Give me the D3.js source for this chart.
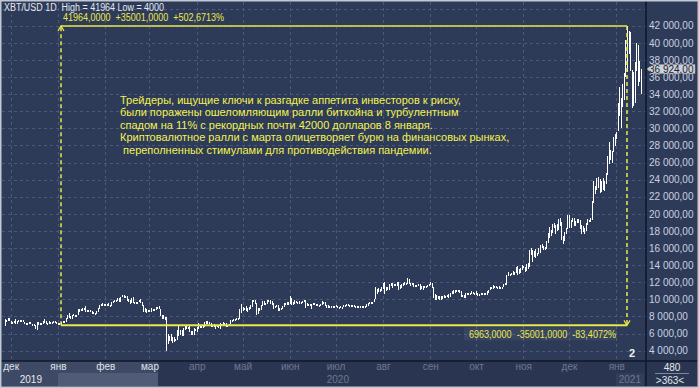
<!DOCTYPE html>
<html><head><meta charset="utf-8">
<script src="https://cdn.jsdelivr.net/npm/d3@7/dist/d3.min.js"></script>
<style>
html,body{margin:0;padding:0;background:#2e3b58;}
svg{display:block;}
text{font-family:"Liberation Sans",Arial,sans-serif;}
</style>
</head><body>
<svg id="c" width="699" height="388"></svg>
<script>
// ---------------- DATA ----------------
const startDate = "2019-11-27"; // first daily bar
const highs = [
// Nov 2019 (27-30)
7650,7620,7850,7820,
// Dec 2019
7530,7390,7420,7750,7480,7560,7610,7580,7620,7400,7270,7250,7300,7300,7160,7130,6950,7400,7350,7230,7210,7500,7690,7440,7280,7430,7330,7370,7520,7460,7320,
// Jan 2020
7250,7210,7400,7420,7520,7800,8200,8450,8080,8180,8290,8180,8180,8880,8900,8850,9000,8980,9200,8710,8730,8800,8680,8520,8450,8600,8980,9400,9430,9570,9500,
// Feb 2020
9450,9470,9600,9300,9750,9850,9880,9950,10150,10150,10300,10480,10530,10390,10380,10040,9950,10220,10230,9670,9700,9710,9980,9990,9660,9370,8950,8900,8800,
// Mar 2020
8750,8950,8900,8840,9150,9160,9200,8900,8180,8150,7980,7960,5950,5700,5900,5600,5550,5420,6400,6900,6450,6400,6600,6850,6950,6780,6850,6300,6250,6600,6520,
// Apr 2020
6750,7250,7000,6990,6900,7370,7440,7420,7360,7250,6950,7150,6930,6980,6950,7200,7150,7300,7240,7240,6970,7140,7590,7580,7660,7720,7800,7780,8900,9450,
// May 2020
9060,9040,9180,8950,9100,9390,9950,9950,9900,9600,8950,8950,9400,9800,9850,9580,9870,9950,9900,9800,9580,9270,9320,9300,8980,9000,9220,9580,9600,9700,9700,
// Jun 2020
10400,10220,9700,9880,9830,9730,9780,9740,9810,9960,9950,9560,9500,9450,9500,9580,9560,9470,9460,9380,9420,9770,9690,9690,9320,9300,9210,9220,9200,9200,
// Jul 2020
9290,9280,9130,9190,9130,9360,9380,9470,9440,9300,9300,9350,9340,9270,9270,9230,9190,9200,9240,9220,9420,9540,9650,9640,9730,10100,11400,11250,11330,11180,11450,
// Aug 2020
11860,12060,11480,11420,11800,11900,11900,11800,11810,12050,12060,11650,11800,11880,12000,11950,12480,12400,11950,11880,11900,11690,11700,11800,11750,11550,11580,11550,11600,11700,11780,
// Sep 2020
12080,11950,11450,10660,10560,10360,10400,10420,10350,10500,10450,10480,10580,10800,10950,11100,11050,11050,11150,11070,10990,10560,10540,10770,10770,10780,10800,10950,10850,10800,
// Oct 2020
10950,10700,10600,10700,10800,10800,10700,10950,11100,11500,11420,11700,11560,11550,11500,11530,11420,11500,11820,11930,12900,13150,13020,13120,13340,13220,13770,13850,13580,13650,14050,
// Nov 2020
13850,13800,14080,14220,15750,15950,15780,15650,15850,15450,15950,16350,16480,16300,16150,16880,17800,18450,18150,18780,18950,18700,18770,19410,19480,19100,17450,17850,18350,19850,
// Dec 2020
19900,19300,19550,19500,19150,19400,19400,19300,18650,18550,18300,18900,19400,19330,19550,21500,23800,23300,24250,24300,24100,23850,24150,23800,24800,26800,28400,27500,27350,28950,29300,
// Jan 2021 (1-17)
29600,33000,34800,33600,35200,36500,40300,41964,41400,41300,36800,36600,37800,40000,39700,37900,36930
];
const lows = [
// Nov 2019
6870,7420,7450,7520,
// Dec 2019
7160,7170,7220,7100,7180,7300,7480,7460,7300,7180,7140,7100,7180,7090,7040,6850,6560,6440,7060,7120,7120,7150,7270,7120,7120,7160,7100,7270,7310,7230,7130,
// Jan 2020
7170,7000,6963,7270,7340,7360,7720,7880,7760,7670,8010,7980,8050,8120,8580,8640,8670,8820,8560,8520,8500,8600,8300,8240,8290,8330,8560,8900,9250,9250,9200,
// Feb 2020
9300,9200,9200,9100,9170,9550,9730,9700,9860,9740,9700,10230,10110,10110,9800,9670,9460,9600,9600,9450,9580,9620,9660,9530,9280,8550,8540,8440,8550,
// Mar 2020
8520,8540,8660,8670,8770,9000,8880,8020,7650,7750,7590,4000,4800,5100,5100,4900,5000,5100,5250,5700,5850,5750,5700,6400,6480,6500,6230,5870,5880,5860,6320,
// Apr 2020
6170,6580,6650,6700,6680,6780,7080,7120,7150,6770,6780,6800,6570,6770,6630,6480,6990,7020,7030,6800,6850,6830,7070,7400,7440,7450,7630,7650,7720,8420,
// May 2020
8660,8760,8700,8550,8750,8920,9090,9700,9500,8200,8300,8600,8800,9250,9300,9290,9480,9650,9500,9300,8900,9000,9080,8700,8650,8800,8860,9120,9330,9350,9400,
// Jun 2020
9420,9300,9400,9470,9550,9590,9450,9620,9570,9690,9050,9250,9380,9300,8920,9360,9320,9290,9220,9200,9280,9300,9530,9230,9050,9030,8950,8950,9030,9090,
// Jul 2020
9120,9040,9050,9070,8970,9060,9230,9240,9210,9120,9200,9190,9200,9100,9170,9100,9100,9140,9130,9140,9150,9280,9460,9500,9500,9650,10000,10600,10900,10850,10970,
// Aug 2020
11230,10650,11000,11060,11100,11530,11350,11520,11550,11520,11150,11170,11290,11550,11700,11660,11800,11810,11600,11650,11500,11400,11480,11590,11150,11250,11140,11290,11450,11510,11580,
// Sep 2020
11650,11300,10200,9900,9900,10050,9900,9900,10000,10200,10200,10260,10200,10260,10620,10660,10760,10820,10900,10800,10300,10370,10150,10200,10600,10650,10650,10650,10650,10650,
// Oct 2020
10540,10400,10510,10530,10630,10560,10580,10530,10800,11050,11250,11220,11300,11280,11250,11200,11300,11330,11400,11700,11700,12700,12700,12900,12900,12800,13070,12900,12950,13120,13480,
// Nov 2020
13650,13220,13320,13550,13800,15200,14370,14900,14850,15100,15290,15450,15950,15750,15800,15880,16550,17230,17380,17800,18350,17650,18020,18080,18600,16950,16500,16860,17600,18200,
// Dec 2020
18300,18350,19000,18600,18550,18900,18950,18200,17650,17900,17600,17950,18750,19000,19050,19300,21250,22350,22800,23050,22400,22550,22750,22700,23450,24550,25850,26250,25900,27200,27950,
// Jan 2021
28700,29700,31400,30000,32500,33300,36000,36600,38700,36700,32400,32600,33000,36700,35000,35400,34000
];
const lastPrice = 36924;
const yTicks = [4000,6000,8000,10000,12000,14000,16000,18000,20000,22000,24000,26000,28000,30000,32000,34000,36000,38000,40000,42000];
const gridLevels = [4000,6000,8000,10000,12000,14000,16000,18000,20000,22000,24000,26000,28000,30000,32000,34000,36000,38000,40000,42000,44000];
const monthDates = ["2019-12-01","2020-01-01","2020-02-01","2020-03-01","2020-04-01","2020-05-01","2020-06-01","2020-07-01","2020-08-01","2020-09-01","2020-10-01","2020-11-01","2020-12-01","2021-01-01"];
const monthLabels = ["дек","янв","фев","мар","апр","май","июн","июл","авг","сен","окт","ноя","дек","янв"];
const yearLabels = ["2019","2020","2021"];
const measureStart = {date:"2020-01-03", price:6963};
const measureEnd = {date:"2021-01-08", price:41964};
const headerText = "XBT/USD 1D  High = 41964 Low = 4000";
const topInfo = "41964,0000  +35001,0000  +502,6713%";
const bottomInfo = "6963,0000  -35001,0000  -83,4072%";
const noteLines = [
"Трейдеры, ищущие ключи к разгадке аппетита инвесторов к риску,",
"были поражены ошеломляющим ралли биткойна и турбулентным",
"спадом на 11% с рекордных почти 42000 долларов 8 января.",
"Криптовалютное ралли с марта олицетворяет бурю на финансовых рынках,",
" переполненных стимулами для противодействия пандемии."
];
const cornerTop = "480", cornerBottom = ">363<", pageNum = "2";

// ---------------- LAYOUT ----------------
const W = 699, H = 388;
const plotL = 2, plotR = 646, plotT = 2, plotB = 361;
const bg = "#2e3b58", gridC = "#4b5879", yellow = "#e9e94a";
const parse = s => new Date(s + "T00:00:00Z");

const svg = d3.select("#c");
const x = d3.scaleUtc().domain([parse("2020-01-01"), parse("2021-01-01")]).range([57.95, 616.3]);
const y = d3.scaleLinear().domain([4000, 42000]).range([350.7, 25.7]);
const dates = highs.map((_, i) => d3.utcDay.offset(parse(startDate), i));

// background
svg.append("rect").attr("width", W).attr("height", H).attr("fill", bg);

// grid
const grid = svg.append("g").attr("stroke", gridC).attr("stroke-dasharray", "3,3").attr("shape-rendering", "crispEdges");
grid.selectAll("line.h").data(gridLevels).join("line").attr("class", "h")
  .attr("x1", plotL).attr("x2", plotR)
  .attr("y1", d => Math.round(y(d)) + 0.5).attr("y2", d => Math.round(y(d)) + 0.5);
grid.selectAll("line.v").data(monthDates).join("line").attr("class", "v")
  .attr("y1", plotT).attr("y2", plotB)
  .attr("x1", d => Math.round(x(parse(d))) + 0.5).attr("x2", d => Math.round(x(parse(d))) + 0.5);

// bars
svg.append("defs").append("clipPath").attr("id", "pc").append("rect")
  .attr("x", plotL).attr("y", plotT).attr("width", plotR - plotL).attr("height", plotB - plotT);
svg.append("g").attr("clip-path", "url(#pc)").attr("stroke", "#ffffff").attr("shape-rendering", "crispEdges")
  .selectAll("line").data(dates).join("line")
  .attr("x1", d => Math.round(x(d)) + 0.5).attr("x2", d => Math.round(x(d)) + 0.5)
  .attr("y1", (d, i) => Math.round(y(highs[i])))
  .attr("y2", (d, i) => Math.max(Math.round(y(lows[i])), Math.round(y(highs[i])) + 2))
  .attr("stroke-width", 1);

// measurement
const mx1 = x(parse(measureStart.date)), mx2 = x(parse(measureEnd.date));
const my1 = y(measureStart.price), my2 = y(measureEnd.price);
const mg = svg.append("g").attr("stroke", yellow).attr("fill", "none");
mg.append("line").attr("x1", mx1).attr("x2", mx2).attr("y1", my2).attr("y2", my2).attr("stroke-width", 1.5);
mg.append("line").attr("x1", mx1).attr("x2", mx2).attr("y1", my1).attr("y2", my1).attr("stroke-width", 2);
mg.append("line").attr("x1", mx1).attr("x2", mx1).attr("y1", my1).attr("y2", my2).attr("stroke-width", 1.5).attr("stroke-dasharray", "4,3");
mg.append("line").attr("x1", mx2).attr("x2", mx2).attr("y1", my2).attr("y2", my1).attr("stroke-width", 1.5).attr("stroke-dasharray", "4,3");
mg.append("polyline").attr("points", `${mx1-3},${my2+5} ${mx1},${my2} ${mx1+3},${my2+5}`).attr("stroke-width", 1.2);
mg.append("polyline").attr("points", `${mx2-3},${my1-5} ${mx2},${my1} ${mx2+3},${my1-5}`).attr("stroke-width", 1.2);

// texts in plot
svg.append("text").attr("x", 4).attr("y", 10.5).attr("font-size", 10).attr("fill", "#e4e8f0")
  .attr("textLength", 160).attr("lengthAdjust", "spacingAndGlyphs")
  .style("white-space", "pre").text(headerText);
svg.append("text").attr("x", mx1 + 2).attr("y", 21).attr("font-size", 10).attr("fill", yellow)
  .attr("textLength", 161).attr("lengthAdjust", "spacingAndGlyphs")
  .style("white-space", "pre").text(topInfo);
svg.append("rect").attr("x", 464).attr("y", my1 + 2).attr("width", mx2 - 10 - 464).attr("height", 13)
  .attr("fill", "#ffffff").attr("opacity", 0.05);
svg.append("text").attr("x", mx2 - 158).attr("y", 338).attr("font-size", 10).attr("fill", yellow)
  .attr("textLength", 147).attr("lengthAdjust", "spacingAndGlyphs")
  .style("white-space", "pre").text(bottomInfo);
svg.append("g").selectAll("text").data(noteLines).join("text")
  .attr("x", 120).attr("y", (d, i) => 103.5 + i * 12.5)
  .attr("font-size", 11).attr("fill", "#f2f24e").style("white-space", "pre").text(d => d);
svg.append("text").attr("x", 629).attr("y", 357).attr("font-size", 11).attr("font-weight", "bold").attr("fill", "#f0f0f0").text(pageNum);

// right axis
const fmtLoc = d3.formatLocale({decimal: ",", thousands: " ", grouping: [3], currency: ["", ""]});
const fmt = fmtLoc.format(",.2f");
svg.append("rect").attr("x", plotR).attr("y", 0).attr("width", W - plotR).attr("height", H).attr("fill", bg);
const ya = svg.append("g").attr("transform", `translate(${plotR},0)`)
  .call(d3.axisRight(y).tickValues(yTicks).tickFormat(fmt).tickSize(0).tickPadding(3));
ya.select(".domain").remove();
ya.selectAll("text").attr("font-size", 10).attr("fill", "#c9d1e2").attr("font-family", "Liberation Sans, Arial, sans-serif");

// last price tag
const ly = y(lastPrice);
svg.append("path").attr("d", `M${plotR+1},${ly} L${plotR+6},${ly-4.5} L${W-4},${ly-4.5} L${W-4},${ly+4.5} L${plotR+6},${ly+4.5} Z`)
  .attr("fill", "#cdd1d8").attr("stroke", "#9aa2b0").attr("stroke-width", 0.5);
svg.append("text").attr("x", plotR + 3).attr("y", ly + 3.5).attr("font-size", 10).attr("fill", "#1c2230").text(fmt(lastPrice));

// bottom axis panel
svg.append("rect").attr("x", 0).attr("y", plotB).attr("width", W).attr("height", H - plotB).attr("fill", "#2a3651");
svg.append("rect").attr("x", 2).attr("y", plotB).attr("width", 156).attr("height", 25).attr("fill", "#3d4965");
svg.append("rect").attr("x", 58).attr("y", 373).attr("width", 100).attr("height", 13).attr("fill", "#4f5b77");
svg.append("rect").attr("x", 616).attr("y", 373).attr("width", 28).attr("height", 13).attr("fill", "#313d59");
const xa = svg.append("g").attr("transform", `translate(0,${plotB})`)
  .call(d3.axisBottom(x).tickValues(monthDates.map(parse)).tickFormat((d, i) => monthLabels[i]).tickSize(0).tickPadding(2));
xa.select(".domain").remove();
xa.selectAll("text").attr("font-size", 10).attr("font-family", "Liberation Sans, Arial, sans-serif")
  .attr("fill", d => x(d) < 158 ? "#dfe3ea" : "#6d7892");
const yearPos = [{x: 42, c: "#e6e9ef"}, {x: 349, c: "#6d7892"}, {x: 641, c: "#6d7892"}];
svg.append("g").selectAll("text").data(yearLabels).join("text")
  .attr("x", (d, i) => yearPos[i].x).attr("y", 383).attr("text-anchor", "end")
  .attr("font-size", 10).attr("fill", (d, i) => yearPos[i].c).text(d => d);

// corner panel
svg.append("rect").attr("x", plotR).attr("y", plotB).attr("width", W - plotR).attr("height", H - plotB).attr("fill", "#2a3651");
svg.append("text").attr("x", 672).attr("y", 371).attr("text-anchor", "middle").attr("font-size", 10).attr("fill", "#e2e6ee").text(cornerTop);
svg.append("line").attr("x1", 655).attr("x2", 689).attr("y1", 373.5).attr("y2", 373.5).attr("stroke", "#7d879c");
svg.append("text").attr("x", 670).attr("y", 384).attr("text-anchor", "middle").attr("font-size", 10).attr("fill", "#e2e6ee")
  .style("white-space", "pre").text(cornerBottom);

// separators & frame
const sep = svg.append("g").attr("stroke", "#111827").attr("stroke-width", 1.5);
sep.append("line").attr("x1", plotR).attr("x2", plotR).attr("y1", 0).attr("y2", H);
sep.append("line").attr("x1", 0).attr("x2", W).attr("y1", plotB).attr("y2", plotB);
svg.append("rect").attr("x", 0.75).attr("y", 0.75).attr("width", W - 1.5).attr("height", H - 1.5)
  .attr("fill", "none").attr("stroke", "#c3c9d3").attr("stroke-width", 1.5);
</script>
</body></html>
